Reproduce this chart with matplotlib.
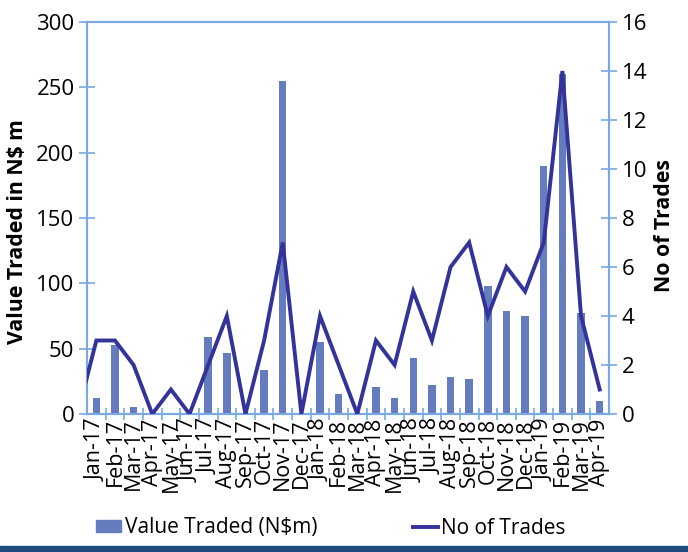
import matplotlib
matplotlib.use("Agg")
import matplotlib.pyplot as plt
from matplotlib.patches import Rectangle
from matplotlib.lines import Line2D
from matplotlib.ticker import FixedLocator

plt.rcParams['font.family'] = ['Open Sans', 'DejaVu Sans']

months = ["Jan-17", "Feb-17", "Mar-17", "Apr-17", "May-17", "Jun-17", "Jul-17",
          "Aug-17", "Sep-17", "Oct-17", "Nov-17", "Dec-17", "Jan-18", "Feb-18",
          "Mar-18", "Apr-18", "May-18", "Jun-18", "Jul-18", "Aug-18", "Sep-18",
          "Oct-18", "Nov-18", "Dec-18", "Jan-19", "Feb-19", "Mar-19", "Apr-19"]
value_traded = [12, 53, 5, 0, 0.5, 0, 59, 47, 0, 34, 255, 0, 55, 15, 0, 21, 12.5,
                43, 22, 28, 27, 98, 79, 75, 190, 260, 77, 10]
no_of_trades = [3, 3, 2, 0, 1, 0, 2, 4, 0, 3, 7, 0, 4, 2, 0, 3, 2, 5, 3, 6, 7,
                4, 6, 5, 7, 14, 4, 1]
trades_prior = 0  # Dec-16, off the left edge of the chart

bar_color = "#657dbf"
line_color = "#333399"
axis_color = "#79a9e0"

fig = plt.figure(figsize=(6.88, 5.52), dpi=100)
ax = fig.add_axes([87/688, 1-414/552, (609-87)/688, (414-22)/552])
ax2 = ax.twinx()

x = list(range(len(months)))
ax.bar(x, value_traded, width=0.4, color=bar_color, zorder=2)
ax2.plot([-1] + x, [trades_prior] + no_of_trades, color=line_color, lw=2.8,
         solid_joinstyle='miter', zorder=3)

ax.set_xlim(-0.5, len(months) - 0.5)
ax.set_ylim(0, 300)
ax2.set_ylim(0, 16)
ax.set_yticks(range(0, 301, 50))
ax2.set_yticks(range(0, 17, 2))

ax.set_xticks(x)
ax.set_xticklabels(months, rotation=90, fontsize=15.5)
ax.tick_params(axis='x', which='major', length=0, pad=3)
ax.xaxis.set_minor_locator(FixedLocator([i - 0.5 for i in range(1, len(months))]))
ax.tick_params(axis='x', which='minor', direction='inout', length=8, width=1.2, color=axis_color)

ax.tick_params(axis='y', direction='inout', length=12, width=1.2, color=axis_color,
               labelsize=16, pad=3)
ax2.tick_params(axis='y', direction='inout', length=12, width=1.2, color=axis_color,
                labelsize=16, pad=3)

for a in (ax, ax2):
    for s in a.spines.values():
        s.set_color(axis_color)
        s.set_linewidth(1.5)

ax.set_zorder(1)
ax2.set_zorder(2)
ax.patch.set_visible(False)

fig.text(18/688, 1-232/552, "Value Traded in N$ m", rotation=90, fontsize=15.3,
         fontweight='bold', ha='center', va='center')
fig.text(665/688, 1-226/552, "No of Trades", rotation=90, fontsize=15.3,
         fontweight='bold', ha='center', va='center')

handles = [Rectangle((0, 0), 1, 1, color=bar_color),
           Line2D([0], [0], color=line_color, lw=2.8)]
fig.legend(handles, ["Value Traded (N$m)", "No of Trades"], loc='center',
           bbox_to_anchor=(331/688, 1-528/552), ncol=2, frameon=False,
           fontsize=15, handlelength=1.2, handleheight=0.55, handletextpad=0.15,
           columnspacing=4.6)

fig.patches.append(Rectangle((0, 0), 1, 6/552, transform=fig.transFigure,
                             color="#1f4a7c", zorder=0))

fig.savefig("out.png", dpi=100)
